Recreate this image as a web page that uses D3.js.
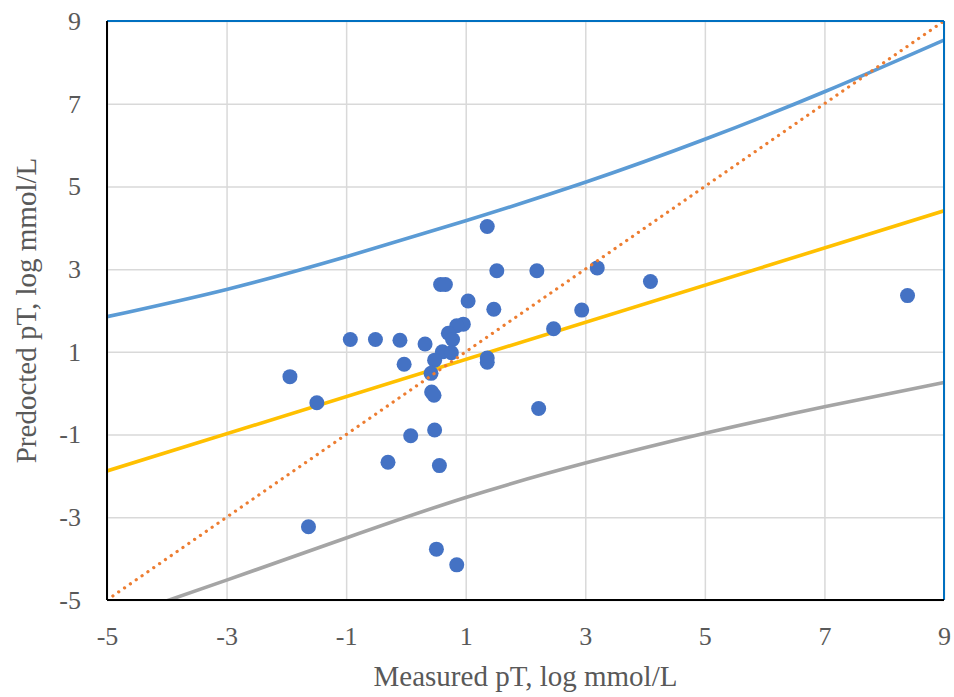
<!DOCTYPE html>
<html>
<head>
<meta charset="utf-8">
<script src="https://cdn.jsdelivr.net/npm/d3@7"></script>
<style>
  body { margin: 0; background: #fff; }
  svg text { font-family: "Liberation Serif", "Times New Roman", serif; fill: #595959; }
</style>
</head>
<body>
<svg id="chart"></svg>
<script>
const svgWidth = 954;
const svgHeight = 697;
const margin = { top: 21, right: 10, bottom: 97, left: 107 };
const width = 944 - margin.left;
const height = 600 - margin.top;

// measured vs predicted pT
const measured = [1.36, 1.52, 0.58, 0.66, 1.04, 1.47, 0.96, 0.85, 0.71, 0.78,
  -0.93, -0.51, -0.10, 0.32, 0.61, 0.76, -0.03, 0.48, 0.42, 0.43,
  0.47, 1.36, 1.36, -1.94, -1.49, 0.08, 0.48, -0.30, 0.56, -1.63,
  0.51, 0.85, 2.19, 3.20, 4.09, 2.94, 2.47, 2.22, 8.39];
const predicted = [4.03, 2.96, 2.63, 2.63, 2.23, 2.03, 1.67, 1.63, 1.45, 1.30,
  1.30, 1.30, 1.28, 1.19, 1.00, 0.98, 0.70, 0.80, 0.48, 0.03,
  -0.05, 0.85, 0.75, 0.40, -0.23, -1.03, -0.89, -1.67, -1.75, -3.23,
  -3.77, -4.15, 2.96, 3.03, 2.70, 2.01, 1.56, -0.37, 2.36];

// upper and lower bands, regression line, 1:1 line
const upperX = [-5, -3, -1, 1, 3, 5, 7, 9];
const upperY = [1.85, 2.51, 3.30, 4.17, 5.10, 6.14, 7.29, 8.54];
const lowerX = [-4.2, -3, -1, 1, 3, 5, 7, 9];
const lowerY = [-5.12, -4.52, -3.50, -2.52, -1.69, -0.97, -0.33, 0.26];
const fitX = [-5, 9];
const fitY = [-1.88, 4.41];
const identX = [-5, 9];
const identY = [-5, 9];

const xTicks = [-5, -3, -1, 1, 3, 5, 7, 9];
const yTicks = [-5, -3, -1, 1, 3, 5, 7, 9];

const svg = d3.select("#chart")
    .attr("width", svgWidth)
    .attr("height", svgHeight);

const chart = svg.append("g")
    .attr("transform", `translate(${margin.left},${margin.top})`);

const xScale = d3.scaleLinear().domain([-5, 9]).range([0, width]);
const yScale = d3.scaleLinear().domain([-5, 9]).range([height, 0]);

svg.append("defs").append("clipPath").attr("id", "clip")
    .append("rect").attr("width", width).attr("height", height);

// gridlines
chart.append("g")
    .attr("transform", `translate(0,${height})`)
    .call(d3.axisBottom(xScale).tickValues(xTicks).tickSize(-height).tickFormat(""))
    .call(g => g.select(".domain").remove())
    .call(g => g.selectAll("line").attr("stroke", "#d9d9d9").attr("stroke-width", 1.5));

chart.append("g")
    .call(d3.axisLeft(yScale).tickValues(yTicks).tickSize(-width).tickFormat(""))
    .call(g => g.select(".domain").remove())
    .call(g => g.selectAll("line").attr("stroke", "#d9d9d9").attr("stroke-width", 1.5));

const plot = chart.append("g").attr("clip-path", "url(#clip)");

const line = d3.line()
    .x(d => xScale(d[0]))
    .y(d => yScale(d[1]))
    .curve(d3.curveNatural);

function addLine(xs, ys, color, dash) {
  const p = plot.append("path")
      .datum(xs.map((x, i) => [x, ys[i]]))
      .attr("fill", "none")
      .attr("stroke", color)
      .attr("stroke-width", 3.6)
      .attr("d", line);
  if (dash) {
    p.attr("stroke-dasharray", "0.1 7").attr("stroke-linecap", "round").attr("stroke-width", 3.2);
  }
}

addLine(upperX, upperY, "#5b9bd5");
addLine(lowerX, lowerY, "#a5a5a5");
addLine(fitX, fitY, "#ffc000");

// points
plot.selectAll(".dot")
    .data(measured.map((m, i) => ({ x: m, y: predicted[i] })))
    .enter()
    .append("circle")
    .attr("class", "dot")
    .attr("cx", d => xScale(d.x))
    .attr("cy", d => yScale(d.y))
    .attr("r", 7.5)
    .attr("fill", "#4472c4");

addLine(identX, identY, "#ed7d31", true);

// frame: black left/bottom, blue top/right
chart.append("line").attr("x1", 0).attr("x2", width).attr("y1", 0).attr("y2", 0)
    .attr("stroke", "#0070c0").attr("stroke-width", 2);
chart.append("line").attr("x1", width).attr("x2", width).attr("y1", 0).attr("y2", height)
    .attr("stroke", "#0070c0").attr("stroke-width", 2);
chart.append("line").attr("x1", 0).attr("x2", 0).attr("y1", 0).attr("y2", height)
    .attr("stroke", "#000").attr("stroke-width", 2);
chart.append("line").attr("x1", 0).attr("x2", width).attr("y1", height).attr("y2", height)
    .attr("stroke", "#000").attr("stroke-width", 2);

// tick labels
const xAxis = chart.append("g")
    .attr("transform", `translate(0,${height})`)
    .call(d3.axisBottom(xScale).tickValues(xTicks).tickSize(0).tickPadding(27).tickFormat(d => String(d)));
xAxis.select(".domain").remove();
xAxis.selectAll("text").attr("fill", "#595959")
    .style("font-family", "'Liberation Serif', serif").style("font-size", "26px");

const yAxis = chart.append("g")
    .call(d3.axisLeft(yScale).tickValues(yTicks).tickSize(0).tickPadding(26).tickFormat(d => String(d)));
yAxis.select(".domain").remove();
yAxis.selectAll("text").attr("fill", "#595959")
    .style("font-family", "'Liberation Serif', serif").style("font-size", "26px");

// axis titles
svg.append("text")
    .attr("text-anchor", "middle")
    .attr("x", margin.left + width / 2)
    .attr("y", 686)
    .style("font-size", "29px")
    .text("Measured pT, log mmol/L");

svg.append("text")
    .attr("text-anchor", "middle")
    .attr("transform", `translate(36,${margin.top + height / 2}) rotate(-90)`)
    .style("font-size", "29px")
    .text("Predocted pT, log mmol/L");
</script>
</body>
</html>
